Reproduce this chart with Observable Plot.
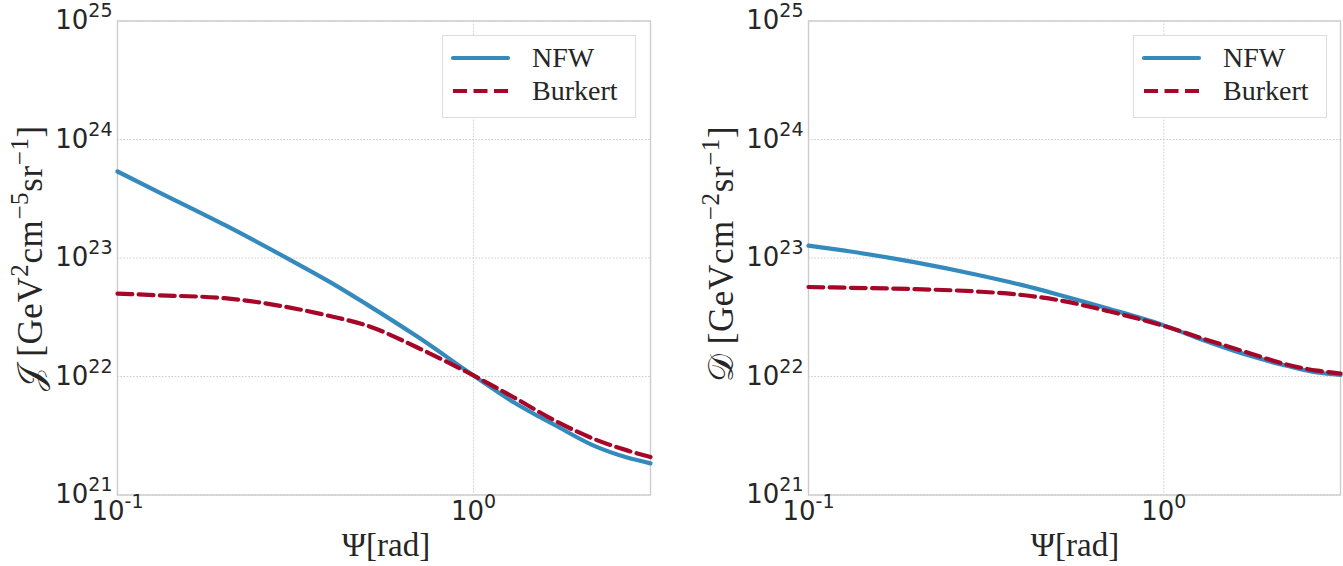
<!DOCTYPE html>
<html><head><meta charset="utf-8">
<script src="https://cdn.jsdelivr.net/npm/d3@7"></script>
<script src="https://cdn.jsdelivr.net/npm/@observablehq/plot@0.6"></script>
<style>
body{margin:0;background:#fff;}
#wrap{position:relative;width:1343px;height:566px;overflow:hidden;background:#fff;}
.panel{position:absolute;top:0;}
.legend{position:absolute;}
</style></head><body><div id="wrap"></div>
<script>
// ---- data ----
const psi       = [0.1, 0.13, 0.2, 0.3, 0.4, 0.5, 0.7, 1.0, 1.3, 1.7, 2.2, 2.7, 3.1416];
const jNFW      = [5.37e23, 3.62e23, 1.90e23, 9.93e22, 6.14e22, 4.08e22, 2.14e22, 1.02e22, 6.04e21, 3.86e21, 2.57e21, 2.07e21, 1.85e21];
const jBurkert  = [5.01e22, 4.85e22, 4.58e22, 3.85e22, 3.21e22, 2.70e22, 1.74e22, 1.02e22, 6.65e21, 4.21e21, 2.94e21, 2.38e21, 2.09e21];
const dNFW      = [1.27e23, 1.14e23, 9.18e22, 7.19e22, 5.90e22, 4.95e22, 3.73e22, 2.70e22, 2.01e22, 1.53e22, 1.24e22, 1.08e22, 1.03e22];
const dBurkert  = [5.69e22, 5.61e22, 5.46e22, 5.21e22, 4.87e22, 4.43e22, 3.55e22, 2.67e22, 2.07e22, 1.61e22, 1.27e22, 1.12e22, 1.06e22];
const seriesNames = ["NFW", "Burkert"];
const xTicks = [0.1, 1];
const yTicks = [1e21, 1e22, 1e23, 1e24, 1e25];
const xDomain = [0.1, Math.PI];
const yDomain = [1e21, 1e25];

const COLORS = {NFW: "#348ABD", Burkert: "#A60628"};
const DASH = {NFW: null, Burkert: "14.8,6.4"};
const TXT = "#262626";
const SERIF = "'Liberation Serif', 'DejaVu Serif', serif";

function rows(ys) { return psi.map((p, i) => ({psi: p, v: ys[i]})); }

const expFmt = d => "10^" + Math.round(Math.log10(d));

function supTicks(svg, sel) {
  d3.select(svg).selectAll(sel).each(function() {
    const t = d3.select(this);
    const s = t.text();
    const [base, ex] = s.split("^");
    t.text(null);
    t.append("tspan").style("font-size", "26px").text(base);
    t.append("tspan").attr("dy", "-12px").style("font-size", "19px").text(ex);
  });
}

function makePanel(cfg) {
  const svg = Plot.plot({
    width: cfg.width, height: 566,
    marginLeft: cfg.ml, marginRight: cfg.mr, marginTop: 20.5, marginBottom: 71.5,
    style: {fontFamily: "'DejaVu Sans', sans-serif", fontSize: "26px", color: TXT, background: "transparent", overflow: "visible"},
    x: {type: "log", domain: xDomain},
    y: {type: "log", domain: yDomain},
    marks: [
      Plot.gridX(xTicks, {stroke: "#c8c8c8", strokeOpacity: 1, strokeWidth: 0.9, strokeDasharray: "1.6,1.6"}),
      Plot.gridY(yTicks, {stroke: "#c8c8c8", strokeOpacity: 1, strokeWidth: 0.9, strokeDasharray: "1.6,1.6"}),
      Plot.frame({stroke: "#cccccc", strokeWidth: 1.4}),
      Plot.line(rows(cfg.nfw), {x: "psi", y: "v", stroke: COLORS.NFW, strokeWidth: 4.2, curve: "monotone-x"}),
      Plot.line(rows(cfg.burkert), {x: "psi", y: "v", stroke: COLORS.Burkert, strokeWidth: 4.2, strokeDasharray: DASH.Burkert, curve: "monotone-x"}),
      Plot.axisX(xTicks, {tickSize: 0, tickPadding: 7, tickFormat: expFmt, label: null, fill: TXT, fontSize: 26}),
      Plot.axisY(yTicks, {tickSize: 0, tickPadding: 5, tickFormat: expFmt, label: null, fill: TXT, fontSize: 26})
    ]
  });
  supTicks(svg, 'g[aria-label="x-axis tick label"] text');
  supTicks(svg, 'g[aria-label="y-axis tick label"] text');

  const s = d3.select(svg);
  // x label
  s.append("text").attr("x", cfg.xLabelX).attr("y", 556).attr("text-anchor", "middle")
    .attr("font-family", SERIF).attr("font-size", "33px").attr("fill", TXT).text("Ψ[rad]");
  // y label with superscripts
  const yl = s.append("text").attr("transform", `translate(${cfg.yLabelX},${cfg.yLabelY}) rotate(-90)`)
    .attr("text-anchor", "middle").attr("font-family", SERIF).attr("font-size", "35px").attr("fill", TXT)
    .attr("letter-spacing", "0.6px");
  cfg.yLabelParts.forEach(p => {
    const ts = yl.append("tspan").text(p.t);
    if (p.sup) ts.attr("font-size", "25px").attr("dy", "-14px");
    if (p.down) ts.attr("dy", "14px");
  });
  svg.classList.add("panel");
  svg.style.left = cfg.left + "px";
  return svg;
}

function makeLegend(left, top) {
  const w = 194, h = 83;
  const div = document.createElement("div");
  div.className = "legend";
  div.style.left = left + "px"; div.style.top = top + "px";
  const s = d3.select(div).append("svg").attr("width", w).attr("height", h);
  s.append("rect").attr("x", 0.5).attr("y", 0.5).attr("width", w - 1).attr("height", h - 1)
    .attr("fill", "#fff").attr("stroke", "#dddddd").attr("stroke-width", 1);
  seriesNames.forEach((n, i) => {
    const yy = 23 + i * 33;
    s.append("line").attr("x1", 11).attr("x2", 66).attr("y1", yy).attr("y2", yy)
      .attr("stroke", COLORS[n]).attr("stroke-width", 4.2).attr("stroke-linecap", DASH[n] ? "butt" : "round")
      .attr("stroke-dasharray", DASH[n] ? "14,6.5" : null);
    s.append("text").attr("x", 90).attr("y", yy + 9).attr("font-family", SERIF).attr("font-size", "28px")
      .attr("fill", TXT).text(n);
  });
  return div;
}

const wrap = document.getElementById("wrap");
wrap.appendChild(makePanel({
  left: 0, width: 671, ml: 117, mr: 21, nfw: jNFW, burkert: jBurkert,
  xLabelX: 386, yLabelX: 42, yLabelY: 258,
  yLabelParts: [{t: "𝒥"}, {t: " [GeV"}, {t: "2", sup: true}, {t: "cm", down: true}, {t: "−5", sup: true}, {t: "sr", down: true}, {t: "−1", sup: true}, {t: "]", down: true}]
}));
wrap.appendChild(makePanel({
  left: 671, width: 672, ml: 137, mr: 3, nfw: dNFW, burkert: dBurkert,
  xLabelX: 404, yLabelX: 62, yLabelY: 254,
  yLabelParts: [{t: "𝒟"}, {t: " [GeVcm"}, {t: "−2", sup: true}, {t: "sr", down: true}, {t: "−1", sup: true}, {t: "]", down: true}]
}));
wrap.appendChild(makeLegend(442, 35));
wrap.appendChild(makeLegend(1133, 35));
</script></body></html>
